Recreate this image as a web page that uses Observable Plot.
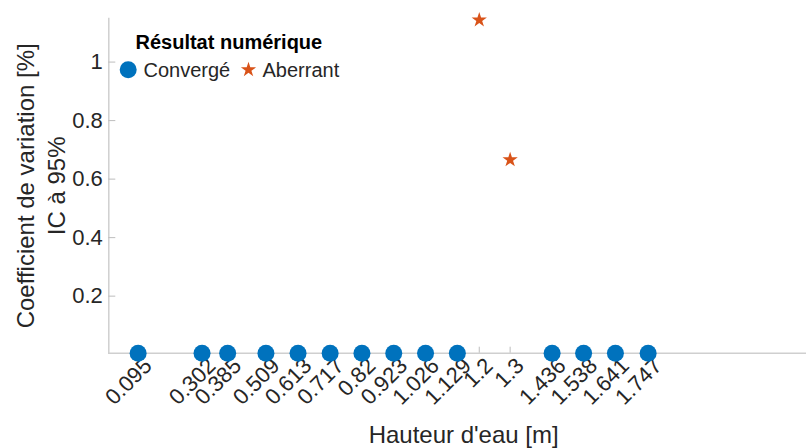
<!DOCTYPE html>
<html>
<head>
<meta charset="utf-8">
<script src="https://cdn.jsdelivr.net/npm/d3@7"></script>
<script src="https://cdn.jsdelivr.net/npm/@observablehq/plot@0.6"></script>
<style>
  html, body { margin: 0; padding: 0; background: #fff; overflow: hidden; }
  #chart svg { display: block; }
</style>
</head>
<body>
<div id="chart"></div>
<script>
// ---- data ----
const hauteurs = [0.095, 0.302, 0.385, 0.509, 0.613, 0.717, 0.82, 0.923, 1.026, 1.129, 1.2, 1.3, 1.436, 1.538, 1.641, 1.747];
const statuts  = ["Convergé","Convergé","Convergé","Convergé","Convergé","Convergé","Convergé","Convergé","Convergé","Convergé","Aberrant","Aberrant","Convergé","Convergé","Convergé","Convergé"];
const cvIC95   = [0.005, 0.005, 0.005, 0.005, 0.005, 0.005, 0.005, 0.005, 0.005, 0.005, 1.144, 0.666, 0.005, 0.005, 0.005, 0.005];
const xTicks = hauteurs;
const yTicks = [0.2, 0.4, 0.6, 0.8, 1];
const xDomain = [0, 2.26];
const yDomain = [0.005, 1.149];
const categories = ["Convergé", "Aberrant"];
const catColors  = ["#0072BD", "#D95319"];
const catSymbols = ["circle", "star"];
const legendTitle = "Résultat numérique";
const xLabel = "Hauteur d'eau [m]";
const yLabel = ["Coefficient de variation [%]", "IC à 95%"];

// ---- build ----
const rows = hauteurs.map((h, i) => ({h, s: statuts[i], v: cvIC95[i]}));
const W = 806, H = 448;
const mL = 108.3, mT = 18, mR = 0, mB = H - 352.7;
const frameW = W - mL - mR, frameH = H - mT - mB;
const txt = "#262626", axisCol = "#cfcfcf";
const sizeOf = {circle: 8.5, star: 4.8};

const legendItemsDx = [[19.4, 34.7], [139.7, 153.7]];

const marks = [
  Plot.frame({anchor: "bottom", stroke: axisCol, strokeWidth: 1.5}),
  Plot.frame({anchor: "left", stroke: axisCol, strokeWidth: 1.5}),
  Plot.ruleX(xTicks, {x: d => d, insetTop: frameH - 6, stroke: "#bdbdbd", strokeWidth: 1}),
  Plot.ruleY(yTicks, {y: d => d, insetRight: frameW - 7, stroke: "#bdbdbd", strokeWidth: 1}),
  Plot.axisX({ticks: xTicks, tickFormat: d => String(d), tickSize: 0, tickPadding: 9, tickRotate: -45,
              dx: 10, fontSize: 22, color: txt, label: null}),
  Plot.axisY({ticks: yTicks, tickFormat: d => String(d), tickSize: 0, tickPadding: 6,
              fontSize: 22, color: txt, label: null}),
  ...categories.map((c, k) => Plot.dot(rows.filter(r => r.s === c), {
    x: "h", y: "v", symbol: catSymbols[k], r: sizeOf[catSymbols[k]], fill: catColors[k], stroke: "none"
  })),
  Plot.text([xLabel], {frameAnchor: "bottom", dx: 6, dy: 82.4, fontSize: 24, lineAnchor: "middle",
                       textAnchor: "middle", fill: txt}),
  Plot.text([yLabel.join("\n")], {frameAnchor: "left", rotate: -90, dx: -69.3, fontSize: 24,
                       lineHeight: 1.3, textAnchor: "middle", lineAnchor: "middle", fill: txt}),
  // legend
  Plot.text([legendTitle], {frameAnchor: "top-left", dx: 26.7, dy: 23.6, fontSize: 20, fontWeight: "bold",
                       textAnchor: "start", lineAnchor: "middle", fill: "#000"}),
  ...categories.flatMap((c, k) => [
    Plot.dot([c], {frameAnchor: "top-left", dx: legendItemsDx[k][0], dy: 51.3, symbol: catSymbols[k],
                   r: sizeOf[catSymbols[k]], fill: catColors[k], stroke: "none"}),
    Plot.text([c], {frameAnchor: "top-left", dx: legendItemsDx[k][1], dy: 51.6, fontSize: 20,
                    textAnchor: "start", lineAnchor: "middle", fill: txt})
  ])
];

const chart = Plot.plot({
  width: W, height: H,
  marginLeft: mL, marginRight: mR, marginTop: mT, marginBottom: mB,
  x: {domain: xDomain},
  y: {domain: yDomain},
  style: {fontFamily: "'Liberation Sans', Arial, Helvetica, sans-serif", background: "#fff", overflow: "visible"},
  marks
});
document.getElementById("chart").appendChild(chart);
</script>
</body>
</html>
